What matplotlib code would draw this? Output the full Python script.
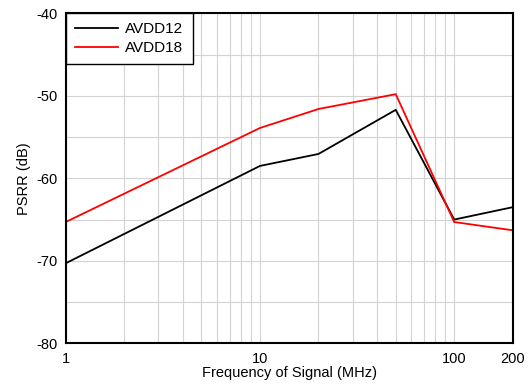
import matplotlib
matplotlib.use("Agg")
from matplotlib import pyplot as plt
from matplotlib.ticker import FixedLocator, NullFormatter, MultipleLocator

plt.rcParams['font.family'] = ['Liberation Sans', 'DejaVu Sans']
plt.rcParams['axes.unicode_minus'] = False

freq = [1, 10, 20, 50, 100, 200]
avdd12 = [-70.3, -58.5, -57.05, -51.7, -65.0, -63.5]
avdd18 = [-65.3, -53.9, -51.6, -49.8, -65.3, -66.3]
x_ticks = [1, 10, 100, 200]
x_minor = [2, 3, 4, 5, 6, 7, 8, 9, 20, 30, 40, 50, 60, 70, 80, 90]

fig = plt.figure(figsize=(5.28, 3.86), dpi=100)
ax = fig.add_axes([0.1244, 0.1106, 0.8466, 0.8549])

ax.plot(freq, avdd12, color="black", lw=1.3, label="AVDD12")
ax.plot(freq, avdd18, color="#ff0000", lw=1.3, label="AVDD18")

ax.set_xscale("log")
ax.set_xlim(1, 200)
ax.set_ylim(-80, -40)
ax.xaxis.set_major_locator(FixedLocator(x_ticks))
ax.xaxis.set_minor_locator(FixedLocator(x_minor))
ax.xaxis.set_minor_formatter(NullFormatter())
ax.set_xticklabels([str(t) for t in x_ticks])
ax.yaxis.set_major_locator(MultipleLocator(10))
ax.yaxis.set_minor_locator(MultipleLocator(5))

ax.grid(True, which="both", color="#d3d3d3", lw=0.8)
ax.set_axisbelow(True)
ax.tick_params(which="both", length=0, labelsize=10.5, colors="black", pad=6)

for s in ax.spines.values():
    s.set_linewidth(1.5)

ax.set_xlabel("Frequency of Signal (MHz)", fontsize=10.5, labelpad=0)
ax.set_ylabel("PSRR (dB)", fontsize=10.5, labelpad=4)

leg = ax.legend(loc="upper left", fancybox=False, framealpha=1, fontsize=11,
                borderaxespad=0, handlelength=2.8, handletextpad=0.5,
                borderpad=0.6, labelspacing=0.3)
leg.get_frame().set_edgecolor("black")
leg.get_frame().set_linewidth(1.0)

fig.savefig("out.png", dpi=100)
